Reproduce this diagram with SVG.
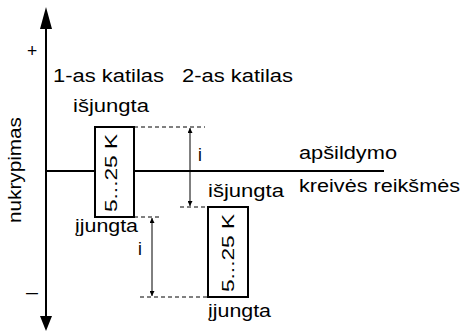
<svg xmlns="http://www.w3.org/2000/svg" width="464" height="333" viewBox="0 0 464 333">
<style>
text{font-family:"Liberation Sans",Arial,Helvetica,sans-serif;font-size:17.5px;fill:#000}
.box{fill:#fff;stroke:#000;stroke-width:2}
.axis{stroke:#000;stroke-width:2;fill:none}
.dash{stroke:#000;stroke-width:1;stroke-dasharray:4 3;fill:none}
.dim{stroke:#000;stroke-width:1;fill:none;marker-start:url(#ah);marker-end:url(#ah)}
.rot{font-size:16px}
</style>
<defs>
<marker id="ah" viewBox="0 0 10 10" refX="10" refY="5" markerWidth="9" markerHeight="5" markerUnits="userSpaceOnUse" orient="auto-start-reverse">
<path d="M0,0 L10,5 L0,10 z" fill="#000"/>
</marker>
</defs>
<g id="connectors">
<line class="axis" x1="46" y1="26" x2="46" y2="318"/>
<polygon points="46,7 40,29 52,29" fill="#000"/>
<polygon points="46,331 40,316 52,316" fill="#000"/>
<line class="axis" x1="46" y1="171" x2="384" y2="171"/>
<line class="dash" x1="134" y1="127" x2="205" y2="127"/>
<line class="dash" x1="180" y1="207" x2="208" y2="207"/>
<line class="dash" x1="134" y1="217" x2="162" y2="217"/>
<line class="dash" x1="140" y1="297" x2="208" y2="297"/>
<line class="dim" x1="190" y1="128" x2="190" y2="206"/>
<line class="dim" x1="152" y1="218" x2="152" y2="296"/>
</g>
<g id="axis-labels">
<text x="32" y="57" text-anchor="middle">+</text>
<text x="26" y="298" textLength="12" lengthAdjust="spacingAndGlyphs">–</text>
<text transform="translate(21,223) rotate(-90)" textLength="106" lengthAdjust="spacingAndGlyphs">nukrypimas</text>
</g>
<g id="headers">
<text x="53" y="82" textLength="111" lengthAdjust="spacingAndGlyphs">1-as katilas</text>
<text x="182" y="82" textLength="111" lengthAdjust="spacingAndGlyphs">2-as katilas</text>
</g>
<g id="boiler1">
<rect class="box" x="95" y="127" width="39" height="90"/>
<text class="rot" transform="translate(117,212) rotate(-90)" textLength="78" lengthAdjust="spacingAndGlyphs">5...25 K</text>
<text x="73" y="112" textLength="76" lengthAdjust="spacingAndGlyphs">išjungta</text>
<text x="75" y="232" textLength="63" lengthAdjust="spacingAndGlyphs">įjungta</text>
</g>
<g id="boiler2">
<rect class="box" x="208" y="207" width="40" height="90"/>
<text class="rot" transform="translate(234,292) rotate(-90)" textLength="78" lengthAdjust="spacingAndGlyphs">5...25 K</text>
<text x="208" y="197" textLength="76" lengthAdjust="spacingAndGlyphs">išjungta</text>
<text x="208" y="317" textLength="63" lengthAdjust="spacingAndGlyphs">įjungta</text>
</g>
<g id="dimension-labels">
<text x="198" y="161">i</text>
<text x="138" y="255">i</text>
</g>
<g id="curve-label">
<text x="299" y="159" textLength="98" lengthAdjust="spacingAndGlyphs">apšildymo</text>
<text x="299" y="192" textLength="161" lengthAdjust="spacingAndGlyphs">kreivės reikšmės</text>
</g>
</svg>
